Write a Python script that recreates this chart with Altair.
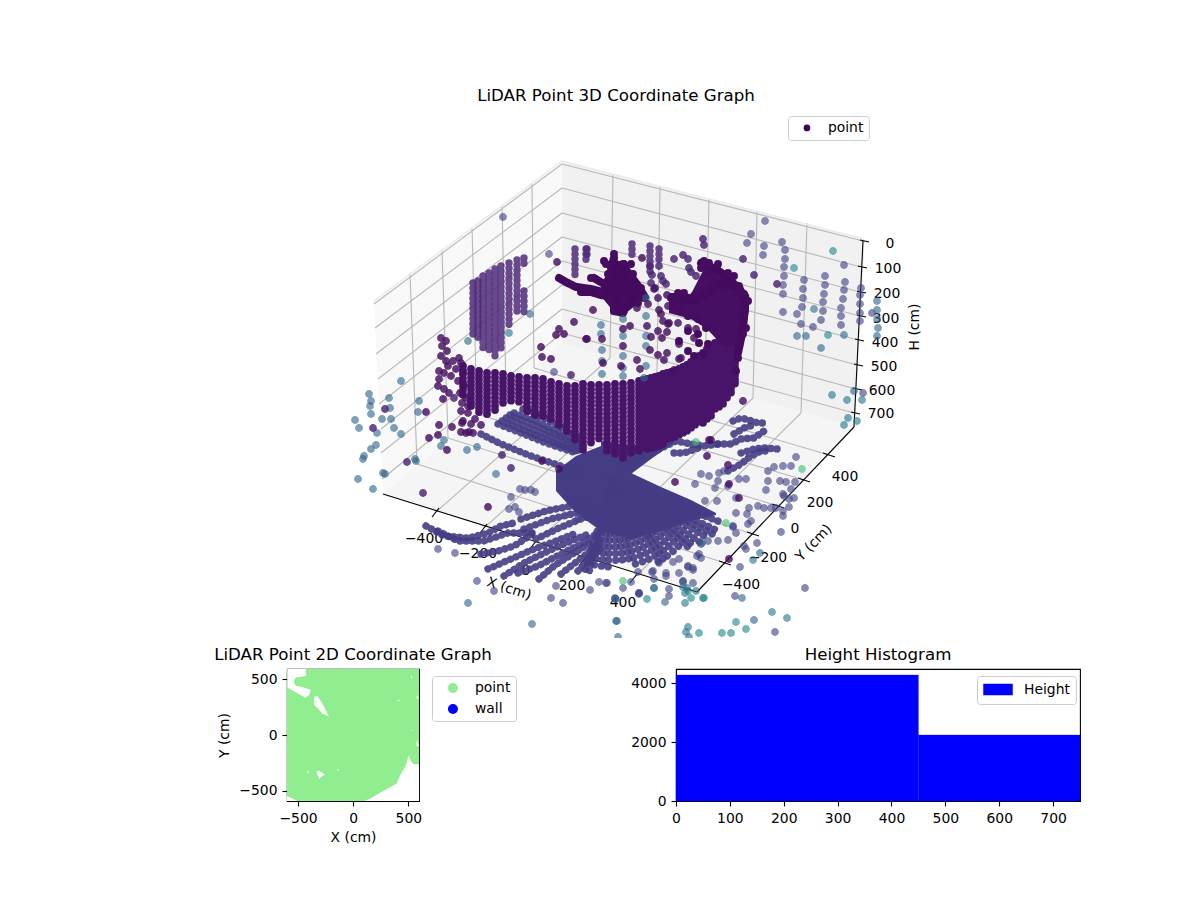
import altair as alt
import pandas as pd

FONT = "DejaVu Sans"

U_MIN, U_MAX, V_MIN, V_MAX = 286, 1080, 108, 637

# panes
left_pane_u = [373, 382, 561]
left_pane_top = [300, 293, 160]
left_pane_bot = [300, 493, 343]
right_pane_u = [561, 853, 863]
right_pane_top = [160, 235, 238]
right_pane_bot = [343, 426, 238]
floor_pane_u = [382, 561, 696, 853]
floor_pane_top = [493, 343, 381, 426]
floor_pane_bot = [493, 548, 591, 426]

# height grid lines, 0 to 700
h_left_u = [373, 374, 375, 377, 378, 380, 380, 381]
h_left_v = [303, 327, 353, 378, 403, 428, 452, 478]
h_back_v = [163, 187, 212, 236, 260, 284, 308, 332]
h_right_u = [862, 860, 859, 859, 857, 856, 855, 853]
h_right_v = [240, 266, 291, 315, 339, 364, 388, 412]

# x ticks -400..400: front edge, back floor edge, top of back wall
x_front_u = [435, 483, 532, 582, 633]
x_front_v = [511, 527, 544, 560, 577]
x_back_u = [609, 656, 704, 752, 800]
x_back_v = [357, 371, 385, 397, 412]
x_top_u = [612, 659, 708, 756, 806]
x_top_v = [173, 185, 197, 210, 222]

# y ticks -400..400: right edge, left floor edge, top of left wall
y_front_u = [724, 752, 777, 803, 828]
y_front_v = [562, 533, 505, 479, 454]
y_back_u = [416, 447, 476, 505, 533]
y_back_v = [463, 437, 413, 390, 367]
y_top_u = [409, 441, 471, 501, 531]
y_top_v = [272, 249, 226, 204, 182]

x_labels = ["−400", "−200", "0", "200", "400"]
x_label_u = [423, 477, 525, 571, 622]
x_label_v = [538, 553, 570, 585, 602]
y_labels = ["−400", "−200", "0", "200", "400"]
y_label_u = [740, 767, 794, 819, 844]
y_label_v = [584, 557, 528, 502, 476]
h_labels = ["0", "100", "200", "300", "400", "500", "600", "700"]
h_label_u = [889, 887, 886, 885, 884, 883, 881, 880]
h_label_v = [243, 268, 293, 318, 342, 366, 390, 413]

# dense floor mass
floor_mass_u = [555, 575, 600, 630, 660, 690, 715]
floor_mass_top = [470, 455, 445, 472, 486, 499, 512]
floor_mass_bot = [490, 512, 530, 538, 530, 520, 514]
floor_arm_u = [600, 630, 650, 673]
floor_arm_top = [440, 445, 440, 432]
floor_arm_bot = [475, 473, 458, 442]

ray_end_u = [583, 588, 592, 600, 607, 615, 622, 629, 635, 643, 650, 658, 664, 670, 676, 682, 688, 693, 700, 708, 713, 717, 722]
ray_end_v = [572, 571, 570, 569, 568, 565, 563, 564, 565, 565, 563, 562, 561, 560, 555, 550, 547, 545, 542, 538, 534, 530, 522]

floor_chains = [
    [(425, 525), (443, 535), (467, 537), (487, 532), (500, 525), (517, 521)],
    [(437, 530), (457, 540), (483, 540), (507, 532), (533, 532)],
    [(480, 553), (497, 550), (513, 545), (533, 532)],
    [(487, 568), (510, 558), (533, 548), (550, 542), (573, 533)],
    [(503, 575), (523, 562), (547, 550), (570, 540), (590, 532)],
    [(517, 572), (537, 565), (560, 553), (580, 543), (600, 530)],
    [(538, 578), (553, 565), (573, 552), (593, 540)],
    [(560, 573), (570, 565), (587, 552), (600, 540)],
    [(577, 570), (590, 557), (600, 547)],
    [(520, 518), (545, 510), (570, 505), (590, 498)],
    [(523, 528), (550, 518), (575, 512), (595, 505)],
    [(535, 538), (558, 527), (580, 518), (598, 512)],
    [(480, 433), (500, 443), (530, 455), (560, 465), (580, 472)],
    [(497, 423), (520, 432), (545, 442), (575, 452)],
    [(501, 420), (524, 430), (549, 440), (578, 451)],
    [(505, 417), (528, 427), (553, 437), (580, 450)],
    [(509, 414), (531, 423), (554, 433), (580, 446)],
    [(513, 412), (535, 420), (555, 430), (580, 443)],
    [(522, 408), (540, 415), (558, 425), (580, 438)],
    [(625, 465), (650, 452), (675, 440), (690, 443), (703, 445), (717, 443)],
    [(625, 458), (650, 447), (672, 436)],
    [(732, 420), (740, 417), (748, 419), (757, 422), (767, 422)],
    [(733, 433), (743, 427), (755, 423)],
    [(717, 443), (730, 443), (740, 438), (753, 437), (763, 430)],
    [(740, 452), (753, 448), (763, 447), (777, 448)],
    [(727, 470), (740, 463), (750, 455), (760, 450), (770, 450)],
    [(673, 452), (683, 452), (697, 447)],
]

# wall scanned as columns of points
wall_u = [462, 470, 478, 486, 494, 502, 510, 518, 526, 534, 542, 550, 558, 566, 574, 582, 590, 598,
          606, 614, 622, 630, 638, 646, 654, 662, 670, 678, 686, 694, 702, 710, 718, 726, 734]
wall_top = [365, 368, 370, 372, 372, 373, 375, 376, 377, 377, 378, 381, 383, 385, 385, 383, 384, 384,
            384, 383, 383, 382, 380, 378, 376, 373, 371, 368, 364, 358, 352, 345, 340, 335, 325]
wall_bot = [395, 405, 412, 415, 412, 405, 402, 402, 410, 415, 418, 420, 428, 432, 440, 452, 445, 440,
            450, 455, 460, 452, 450, 450, 447, 443, 440, 435, 430, 425, 423, 415, 408, 400, 385]
wall_fill_u = [642, 650, 658, 666, 674, 682, 690, 698, 706, 714, 722, 730]
wall_fill_top = [379, 377, 375, 372, 370, 366, 361, 355, 348, 342, 337, 330]
wall_fill_bot = [448, 447, 445, 441, 437, 432, 427, 424, 419, 411, 404, 392]

sheet_u = [472, 477, 482, 488, 494, 500, 508, 516, 523, 523, 574, 586, 585, 631, 649, 658]
sheet_top = [282, 280, 275, 272, 268, 265, 262, 259, 257, 290, 248, 248, 248, 243, 245, 248]
sheet_bot = [336, 340, 347, 353, 357, 350, 325, 315, 263, 315, 277, 257, 260, 255, 272, 263]

# solid dark patches of the upper cloud
blob_u = [600, 612, 625, 640, 648]
blob_top = [285, 258, 262, 282, 295]
blob_bot = [295, 310, 312, 300, 298]
arc_u = [668, 690, 706, 722, 742, 748]
arc_top = [292, 293, 262, 270, 285, 300]
arc_bot = [312, 318, 328, 345, 345, 310]

top_chains = [
    [(558, 277), (565, 281), (575, 286), (590, 288), (606, 292)],
    [(580, 291), (590, 291), (600, 294), (612, 296), (622, 290), (632, 284)],
    [(593, 277), (603, 283), (613, 293), (613, 310), (622, 312)],
    [(613, 257), (610, 267), (613, 280), (617, 293)],
    [(623, 263), (627, 277), (630, 287), (637, 297)],
    [(672, 296), (690, 300), (705, 292), (718, 283), (735, 285), (744, 295)],
    [(700, 262), (715, 268), (725, 275), (735, 285), (744, 300), (742, 328), (737, 352)],
]

# outline of the dark patches, drawn opaque
pts_edge = [(703, 260), (708, 262), (717, 263), (727, 272), (733, 275), (738, 285), (743, 293), (747, 300),
            (743, 310), (745, 327), (742, 333), (737, 343), (737, 357), (735, 370), (670, 297), (673, 305),
            (680, 310), (687, 315), (697, 318), (705, 327), (697, 333), (687, 330), (678, 340), (687, 350),
            (693, 355), (703, 353), (698, 342), (707, 343), (677, 292), (683, 292), (693, 295), (705, 290),
            (713, 282), (708, 273), (700, 267), (603, 260), (613, 253), (622, 263), (630, 263), (632, 273),
            (640, 287), (643, 297), (637, 302), (623, 300), (623, 310), (613, 310), (610, 300), (600, 293),
            (590, 277), (607, 273), (605, 263)]

# single points, by colour level
pts_dark = [(641, 257), (657, 297), (654, 287), (647, 303), (658, 309), (636, 307), (592, 309), (629, 325),
            (646, 325), (622, 328), (585, 338), (601, 338), (650, 336), (661, 337), (657, 330), (666, 331),
            (622, 345), (649, 349), (636, 359), (620, 365), (639, 368), (602, 362), (657, 354), (663, 359),
            (666, 352), (673, 369), (667, 305), (666, 294), (660, 313), (662, 320), (668, 322), (677, 322),
            (667, 323), (687, 327), (695, 328), (678, 343), (693, 337), (680, 357), (678, 358), (556, 261),
            (573, 321), (558, 328), (555, 334), (563, 333), (586, 338), (540, 346), (541, 356), (550, 358),
            (425, 411), (438, 424), (437, 434), (428, 437), (446, 449), (451, 426), (461, 422), (460, 431),
            (468, 431), (487, 506), (541, 460), (742, 400), (728, 483), (738, 497), (710, 439), (727, 464),
            (706, 455), (708, 439), (674, 481), (728, 558), (558, 468),
            (440, 337), (445, 340), (441, 345), (446, 350), (440, 355), (445, 360), (447, 365), (438, 370),
            (443, 372), (438, 378), (450, 375), (437, 385), (443, 388), (448, 392), (442, 398), (452, 360),
            (458, 357), (460, 362), (455, 368), (462, 372), (457, 380), (463, 385), (459, 392), (465, 397),
            (461, 402), (467, 405), (460, 410), (467, 412), (474, 418), (470, 423), (462, 420), (472, 432),
            (465, 432), (480, 424)]
pts_mid = [(673, 258), (682, 254), (687, 258), (688, 267), (695, 275), (690, 271), (660, 275), (662, 280),
           (665, 283), (650, 282), (653, 288), (649, 265), (651, 274), (658, 265), (702, 238), (703, 244),
           (742, 258), (753, 274), (776, 283), (384, 408), (372, 427), (406, 461), (422, 492), (510, 467),
           (501, 454), (453, 397), (570, 374)]
pts_floor = [(764, 220), (750, 233), (746, 242), (763, 245), (781, 241), (784, 249), (762, 254), (784, 258),
             (783, 266), (783, 275), (782, 284), (782, 293), (803, 279), (802, 288), (802, 297), (801, 306),
             (796, 313), (782, 311), (824, 275), (824, 284), (823, 293), (822, 301), (822, 310), (820, 319),
             (800, 323), (812, 326), (843, 264), (844, 281), (843, 289), (842, 298), (840, 307), (840, 315),
             (840, 324), (860, 287), (859, 294), (859, 303), (859, 312), (859, 320), (871, 312), (862, 392),
             (502, 216), (548, 253), (553, 371), (519, 488), (524, 489), (530, 489), (534, 491), (510, 496),
             (508, 508), (514, 506), (518, 511), (577, 518), (437, 548), (454, 552), (476, 580), (493, 590),
             (550, 597), (562, 602), (555, 585), (589, 589), (598, 581), (606, 582), (638, 593), (630, 581),
             (638, 592), (614, 597), (637, 571), (651, 571), (653, 578), (668, 588), (665, 575), (678, 572),
             (687, 566), (692, 567), (682, 581), (692, 582), (734, 595), (739, 566), (756, 542), (745, 548),
             (743, 545), (750, 520), (672, 561), (700, 557), (698, 553), (804, 587), (774, 631), (780, 531),
             (795, 456), (767, 470), (773, 466), (782, 465), (790, 465), (767, 480), (779, 480), (785, 481),
             (794, 481), (765, 489), (782, 493), (790, 488), (793, 497), (788, 498), (783, 495), (748, 507),
             (757, 505), (763, 507), (770, 507), (775, 507), (746, 513), (747, 523), (732, 525), (782, 515),
             (788, 506), (782, 510), (735, 512), (735, 497), (700, 473), (708, 475), (717, 480), (714, 487),
             (727, 485), (738, 478), (745, 478), (694, 483), (716, 500), (704, 500), (723, 470), (718, 472),
             (732, 526), (735, 532), (727, 539), (717, 540), (707, 540), (700, 543), (696, 555), (687, 565),
             (692, 569), (682, 580), (665, 572), (678, 558), (652, 570), (658, 562), (668, 595), (638, 592),
             (622, 587), (614, 598), (605, 582)]
pts_blue = [(645, 297), (645, 315), (645, 335), (645, 345), (645, 365), (643, 377), (622, 318), (622, 335),
            (622, 355), (622, 367), (622, 375), (600, 324), (600, 333), (601, 349), (601, 360), (601, 373),
            (876, 300), (876, 309), (876, 318), (877, 327), (876, 335), (820, 347), (796, 335), (805, 335),
            (843, 334), (853, 390), (400, 380), (467, 340), (529, 313), (368, 393), (370, 400), (369, 405),
            (388, 397), (389, 407), (370, 413), (381, 418), (390, 418), (354, 419), (358, 427), (393, 427),
            (376, 432), (400, 433), (375, 444), (370, 448), (363, 455), (362, 458), (382, 472), (384, 473),
            (357, 478), (372, 488), (418, 400), (417, 411), (414, 458), (415, 460), (443, 439), (440, 445),
            (466, 449), (476, 446), (495, 473), (467, 602), (531, 623), (615, 598), (615, 620), (617, 636),
            (653, 587), (664, 601), (616, 620), (753, 619), (741, 597), (759, 552), (701, 542)]
pts_teal = [(831, 394), (846, 399), (861, 399), (847, 417), (856, 420), (843, 424), (813, 308), (508, 332),
            (686, 587), (695, 590), (684, 592), (684, 602), (687, 626), (685, 631), (688, 636), (752, 559),
            (771, 611), (786, 617), (682, 586), (687, 590), (653, 587)]
pts_green = [(646, 598), (702, 597), (698, 632), (721, 632), (730, 632), (735, 621), (745, 628), (793, 267),
             (827, 334), (832, 250), (690, 597), (703, 597)]
pts_pale = [(622, 580), (801, 468), (725, 522), (695, 441)]

# 2D panel, cm
hole_a_x = [-594, -504, -438, -429]
hole_a_top = [594, 594, 594, 594]
hole_a_bot = [426, 375, 339, 336]
hole_b_x = [-429, -399, -384]
hole_b_top = [420, 411, 405]
hole_b_bot = [339, 360, 405]
neck_x = [-495, -426]
neck_top = [519, 531]
neck_bot = [441, 420]
blob_x = [-495]
blob_y = [480]
hole_c_x = [-354, -324, -294, -279, -219]
hole_c_top = [345, 351, 305, 285, 165]
hole_c_bot = [270, 245, 210, 195, 165]
hole_d_x = [-333, -309, -258]
hole_d_top = [-330, -321, -354]
hole_d_bot = [-330, -393, -354]
hole_e_x = [-414, -396]
hole_e_top = [-309, -351]
hole_e_bot = [-330, -351]
hole_f_x = [-144, -120]
hole_f_top = [-300, -318]
hole_f_bot = [-318, -318]
hole_g_x = [96, 156, 261, 396, 426, 480, 501, 522, 546, 597]
hole_g_top = [-594, -570, -510, -435, -360, -270, -180, -231, -261, -261]
hole_g_bot = [-594, -594, -594, -594, -594, -594, -594, -594, -594, -594]
hole_h_x = [-600, -504]
hole_h_top = [-546, -592]
hole_h_bot = [-592, -592]
speck_x = [[525, 540], [576, 597], [396, 426], [576, 597], [531, 546]]
speck_top = [[540, 510], [360, 330], [315, 315], [-40, -100], [45, 45]]
speck_bot = [[510, 510], [330, 330], [308, 308], [-100, -100], [40, 40]]

# histogram
bin_start = [0, 450]
bin_end = [450, 750]
bin_count = [4282, 2243]
bin_base = [0, 0]


def seg_layer(u1, v1, u2, v2, color, width):
    df = pd.DataFrame({"u": u1, "v": v1, "u2": u2, "v2": v2})
    return alt.Chart(df).mark_rule(color=color, strokeWidth=width).encode(x=ux, y=vy, x2="u2:Q", y2="v2:Q")


def area_layer(u, top, bot, color):
    df = pd.DataFrame({"u": u, "t": top, "b": bot})
    return alt.Chart(df).mark_area(color=color, opacity=1, interpolate="linear", clip=True).encode(
        x=ux, y=alt.Y("t:Q", scale=v_scale, axis=None), y2="b:Q"
    )


def text_layer(u, v, texts, size=13.9, angle=0):
    df = pd.DataFrame({"u": u, "v": v, "t": texts})
    return alt.Chart(df).mark_text(font=FONT, fontSize=size, color="black", angle=angle, align="center", baseline="middle").encode(
        x=ux, y=vy, text="t:N"
    )


def chains_layer(chains, color, width, dash, opacity):
    rows = []
    for i, c in enumerate(chains):
        for j, (u, v) in enumerate(c):
            rows.append({"u": u, "v": v, "id": i, "k": j})
    return alt.Chart(pd.DataFrame(rows)).mark_line(
        color=color, strokeWidth=width, strokeCap="round", strokeJoin="round", strokeDash=dash, opacity=opacity
    ).encode(x=ux, y=vy, detail="id:N", order="k:Q")


u_scale = alt.Scale(domain=[U_MIN, U_MAX], nice=False, zero=False)
v_scale = alt.Scale(domain=[V_MAX, V_MIN], nice=False, zero=False)
ux = alt.X("u:Q", scale=u_scale, axis=None)
vy = alt.Y("v:Q", scale=v_scale, axis=None)

layers = [
    area_layer(left_pane_u, left_pane_top, left_pane_bot, "#f9f9f9"),
    area_layer(right_pane_u, right_pane_top, right_pane_bot, "#f1f1f1"),
    area_layer(floor_pane_u, floor_pane_top, floor_pane_bot, "#f5f5f5"),
    seg_layer(h_left_u, h_left_v, [561] * 8, h_back_v, "#b8b8b8", 1.1),
    seg_layer([561] * 8, h_back_v, h_right_u, h_right_v, "#b8b8b8", 1.1),
    seg_layer(x_front_u, x_front_v, x_back_u, x_back_v, "#b8b8b8", 1.1),
    seg_layer(x_back_u, x_back_v, x_top_u, x_top_v, "#b8b8b8", 1.1),
    seg_layer(y_front_u, y_front_v, y_back_u, y_back_v, "#b8b8b8", 1.1),
    seg_layer(y_back_u, y_back_v, y_top_u, y_top_v, "#b8b8b8", 1.1),
    seg_layer([561, 561, 863], [160, 160, 238], [373, 863, 853], [300, 238, 426], "#ececec", 1.5),
    seg_layer([382, 696], [493, 591], [696, 853], [591, 426], "black", 1.1),
    seg_layer([853], [426], [862], [240], "black", 1.1),
    seg_layer([u - 4 for u in x_front_u], [v + 5 for v in x_front_v], [u + 3 for u in x_front_u], [v - 4 for v in x_front_v], "black", 1.1),
    seg_layer([u + 6 for u in y_front_u], [v + 2 for v in y_front_v], [u - 6 for u in y_front_u], [v - 2 for v in y_front_v], "black", 1.1),
    seg_layer([u - 3 for u in h_right_u], [v - 1 for v in h_right_v], [u + 6 for u in h_right_u], [v + 1 for v in h_right_v], "black", 1.1),
    text_layer(x_label_u, x_label_v, x_labels),
    text_layer(y_label_u, y_label_v, y_labels),
    text_layer(h_label_u, h_label_v, h_labels),
    text_layer([508], [588], ["X (cm)"], angle=18),
    text_layer([813], [542], ["Y (cm)"], angle=314),
    text_layer([914], [326], ["H (cm)"], angle=270),
    area_layer(floor_mass_u, floor_mass_top, floor_mass_bot, "#443c84"),
    area_layer(floor_arm_u, floor_arm_top, floor_arm_bot, "#443c84"),
]

rays = [[(612, 480), (u, v)] for u, v in zip(ray_end_u, ray_end_v)]
layers.append(chains_layer(rays, "#443c84", 7.4, [0.1, 6.5], 0.9))
layers.append(chains_layer(floor_chains, "#443c84", 7.4, [0.1, 6], 0.9))

sheet_df = pd.DataFrame({"u": sheet_u, "v": sheet_top, "v2": sheet_bot})
layers.append(alt.Chart(sheet_df).mark_rule(color="#4f2a78", strokeWidth=7.4, strokeCap="round", strokeDash=[0.1, 5], opacity=0.85).encode(x=ux, y=vy, y2="v2:Q"))
wall_df = pd.DataFrame({"u": wall_u, "v": wall_top, "v2": wall_bot})
layers.append(alt.Chart(wall_df).mark_rule(color="#47146a", strokeWidth=7.8, strokeCap="round", strokeDash=[0.1, 4]).encode(x=ux, y=vy, y2="v2:Q"))
wall_fill_df = pd.DataFrame({"u": wall_fill_u, "v": wall_fill_top, "v2": wall_fill_bot})
layers.append(alt.Chart(wall_fill_df).mark_rule(color="#47146a", strokeWidth=7.8, strokeCap="round", strokeDash=[0.1, 4]).encode(x=ux, y=vy, y2="v2:Q"))
layers.append(area_layer(blob_u, blob_top, blob_bot, "#440a5e"))
layers.append(area_layer(arc_u, arc_top, arc_bot, "#460f64"))
layers.append(chains_layer(top_chains, "#440a5e", 8, [1, 0], 1))
edge_df = pd.DataFrame(pts_edge, columns=["u", "v"])
layers.append(alt.Chart(edge_df).mark_point(filled=True, color="#450c60", size=62, opacity=1).encode(x=ux, y=vy))

tones = [(pts_floor, 0.2), (pts_blue, 0.33), (pts_teal, 0.4), (pts_green, 0.47), (pts_pale, 0.7), (pts_mid, 0.1), (pts_dark, 0.04)]
rows = []
for pts, level in tones:
    for u, v in pts:
        rows.append({"u": u, "v": v, "c": level, "o": 0.82 if level < 0.15 else 0.62})
visc = alt.Scale(scheme="viridis", domain=[0, 1])
layers.append(
    alt.Chart(pd.DataFrame(rows)).mark_point(filled=True, size=42, strokeWidth=1.3, clip=True).encode(
        x=ux, y=vy,
        color=alt.Color("c:Q", scale=visc, legend=None),
        stroke=alt.Stroke("c:Q", scale=visc, legend=None),
        opacity=alt.Opacity("o:Q", scale=None),
    )
)

legend_base = dict(title=None, orient="none", fillColor="white", strokeColor="#cccccc", cornerRadius=3,
                   labelFont=FONT, labelFontSize=13.9, labelColor="black")
layers.append(
    alt.Chart(pd.DataFrame({"u": [806], "v": [128], "lab": ["point"]})).mark_point(filled=True, size=45, opacity=0).encode(
        x=ux, y=vy,
        fill=alt.Fill("lab:N", scale=alt.Scale(domain=["point"], range=["#440154"]),
                      legend=alt.Legend(legendX=501, legendY=7, padding=5, symbolOpacity=1, symbolSize=45,
                                        symbolOffset=7, labelOffset=14, **legend_base)),
    )
)

top = alt.layer(*layers).properties(
    width=U_MAX - U_MIN,
    height=V_MAX - V_MIN,
    view=alt.ViewBackground(stroke=None),
    title=alt.TitleParams("LiDAR Point 3D Coordinate Graph", font=FONT, fontSize=16.67, fontWeight="normal",
                          color="black", anchor="middle", dx=-68, offset=4),
)

# 2D panel
x2d = alt.Scale(domain=[-600, 597], nice=False, zero=False)
y2d = alt.Scale(domain=[-592, 594], nice=False, zero=False)
axis_style = dict(grid=False, domainColor="black", tickColor="black", domainWidth=1.1, tickWidth=1.1, tickSize=5,
                  labelFont=FONT, labelFontSize=13.9, labelColor="black", labelFlush=False, labelOverlap=False,
                  titleFont=FONT, titleFontSize=13.9, titleFontWeight="normal", titleColor="black", labelPadding=5)
x_enc = alt.X("x:Q", scale=x2d, axis=alt.Axis(values=[-500, 0, 500], title="X (cm)", titlePadding=6, **axis_style))
y_enc = alt.Y("t:Q", scale=y2d, axis=alt.Axis(values=[-500, 0, 500], title="Y (cm)", titlePadding=7, **axis_style))


def hole(xs, t, b, color="white"):
    df = pd.DataFrame({"x": xs, "t": t, "b": b})
    return alt.Chart(df).mark_area(color=color, opacity=1, interpolate="linear", clip=True).encode(x=x_enc, y=y_enc, y2="b:Q")


green = "#90ee90"
base_df = pd.DataFrame({"x": [-600, 597], "t": [594, 594], "b": [-592, -592]})
base = alt.Chart(base_df).mark_area(color=green, opacity=1, clip=True).encode(x=x_enc, y=y_enc, y2="b:Q")
blob = alt.Chart(pd.DataFrame({"x": blob_x, "t": blob_y})).mark_point(filled=True, color=green, opacity=1, size=87).encode(x=x_enc, y=y_enc)
leg2d = alt.Chart(pd.DataFrame({"x": [0, 0], "t": [0, 0], "lab": ["point", "wall"]})).mark_point(filled=True, opacity=0, size=100).encode(
    x=x_enc, y=y_enc,
    fill=alt.Fill("lab:N", scale=alt.Scale(domain=["point", "wall"], range=[green, "blue"]),
                  legend=alt.Legend(legendX=145, legendY=7, padding=5, symbolOpacity=1, symbolSize=100, rowPadding=6,
                                    symbolOffset=9, labelOffset=15, **legend_base)),
)
specks = [hole(a, b, c) for a, b, c in zip(speck_x, speck_top, speck_bot)]
left = alt.layer(
    base,
    hole(hole_a_x, hole_a_top, hole_a_bot),
    hole(hole_b_x, hole_b_top, hole_b_bot),
    hole(neck_x, neck_top, neck_bot, green),
    blob,
    hole(hole_c_x, hole_c_top, hole_c_bot),
    hole(hole_d_x, hole_d_top, hole_d_bot),
    hole(hole_e_x, hole_e_top, hole_e_bot),
    hole(hole_f_x, hole_f_top, hole_f_bot),
    hole(hole_g_x, hole_g_top, hole_g_bot),
    hole(hole_h_x, hole_h_top, hole_h_bot),
    *specks,
    leg2d,
).properties(
    width=132, height=132,
    view=alt.ViewBackground(stroke="black", strokeWidth=1.1),
    title=alt.TitleParams("LiDAR Point 2D Coordinate Graph", font=FONT, fontSize=16.67, fontWeight="normal",
                          color="black", anchor="middle", offset=5),
)

# histogram
hist_df = pd.DataFrame({"start": bin_start, "end": bin_end, "count": bin_count, "base": bin_base, "lab": ["Height", "Height"]})
right = alt.Chart(hist_df).mark_rect(stroke="blue", strokeWidth=0.3).encode(
    x=alt.X("start:Q", scale=alt.Scale(domain=[0, 750], nice=False), axis=alt.Axis(values=[0, 100, 200, 300, 400, 500, 600, 700], title=None, **axis_style)),
    x2="end:Q",
    y=alt.Y("count:Q", scale=alt.Scale(domain=[0, 4486], nice=False), axis=alt.Axis(values=[0, 2000, 4000], title=None, format="d", **axis_style)),
    y2="base:Q",
    color=alt.Color("lab:N", scale=alt.Scale(domain=["Height"], range=["blue"]),
                    legend=alt.Legend(legendX=301, legendY=7, padding=5.5, symbolType="M-2,-0.72H2V0.72H-2Z", symbolSize=196,
                                      symbolOpacity=1, symbolOffset=7.5, labelOffset=18, **legend_base)),
).properties(
    width=404, height=132,
    view=alt.ViewBackground(stroke="black", strokeWidth=1.1),
    title=alt.TitleParams("Height Histogram", font=FONT, fontSize=16.67, fontWeight="normal", color="black", anchor="middle", offset=5),
)

bottom = alt.hconcat(left, right, spacing=112).resolve_scale(color="independent", fill="independent")
chart = alt.vconcat(top, bottom, spacing=8).properties(
    padding={"left": 205, "top": 80, "right": 0, "bottom": 0}
).resolve_scale(color="independent", fill="independent")

chart.save("out.html", embed_options={"renderer": "svg", "actions": False})
